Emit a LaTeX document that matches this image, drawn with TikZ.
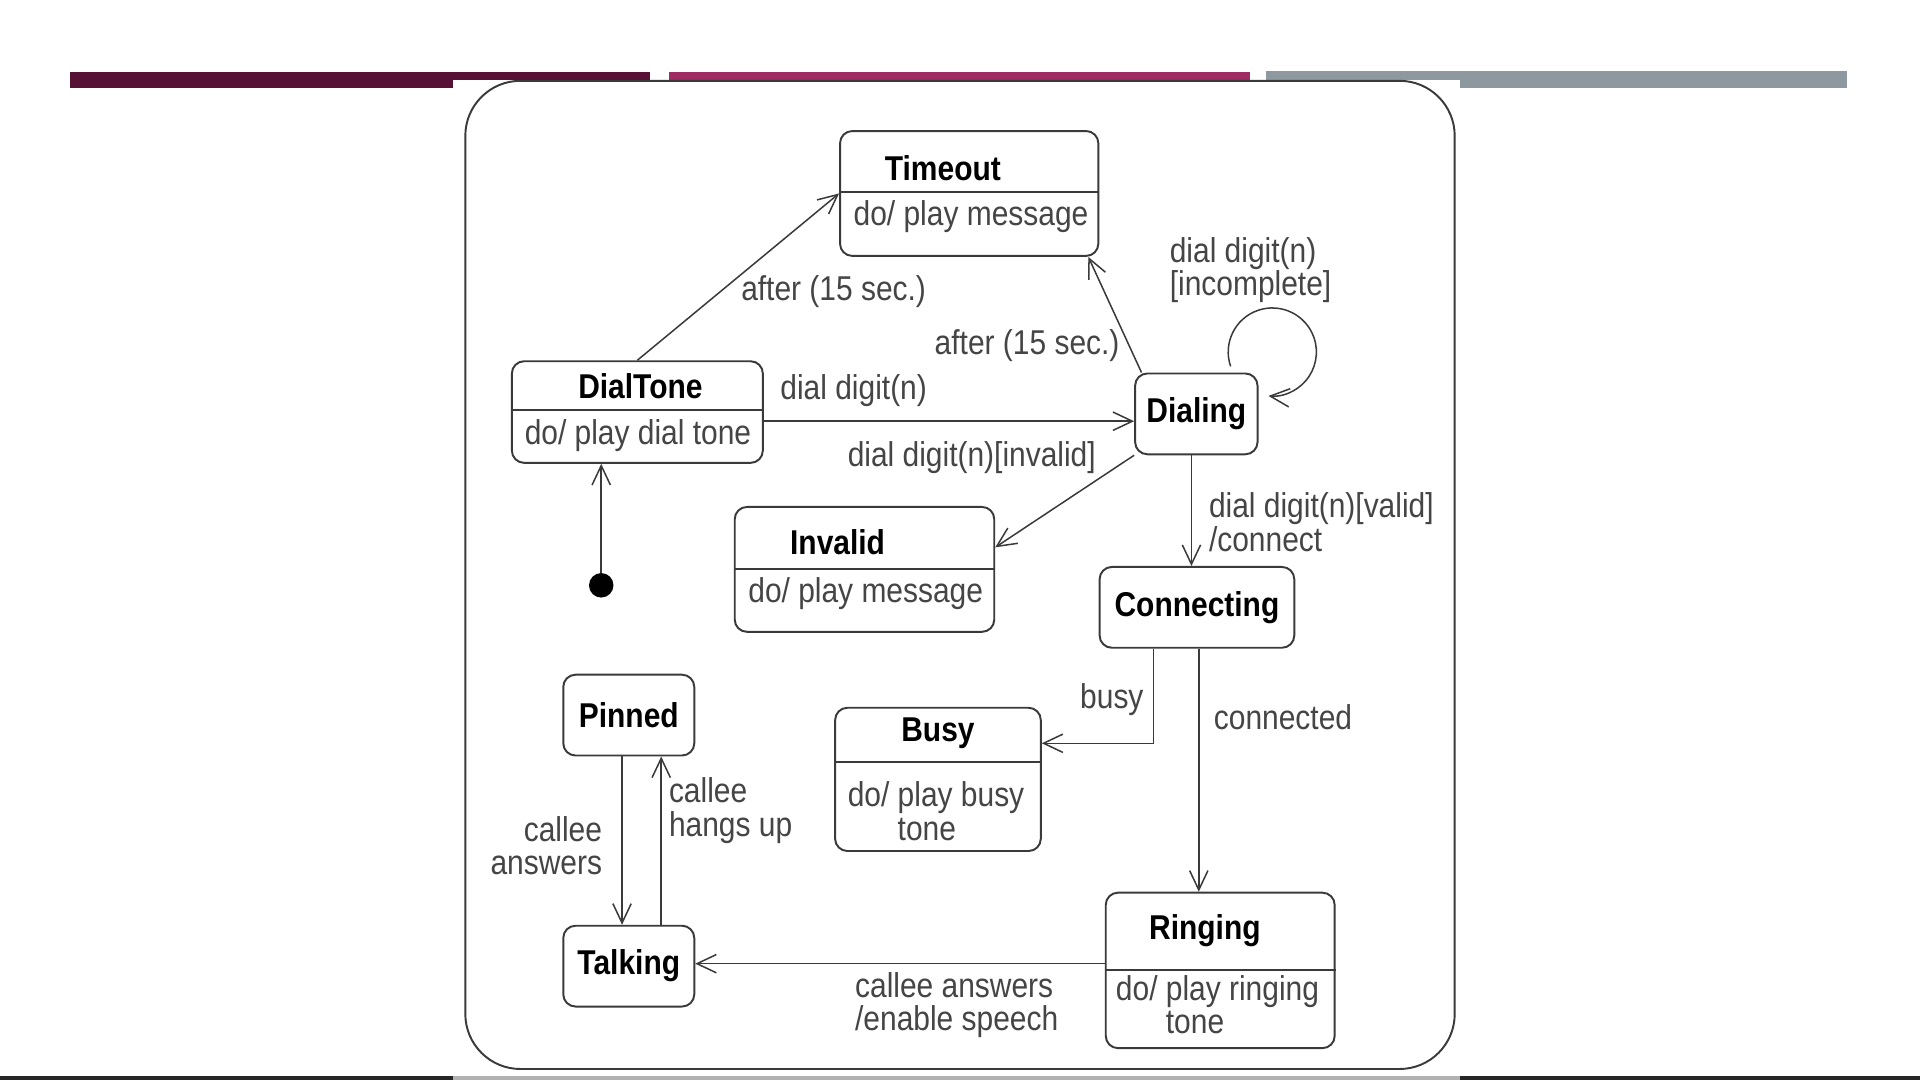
\documentclass[tikz,border=0pt]{standalone}
\usepackage{fontspec}
\setmainfont{Liberation Sans}[FakeStretch=0.87]
\usetikzlibrary{arrows.meta}
\definecolor{lineGray}{HTML}{3A3A3A}
\definecolor{textGray}{HTML}{454545}
\definecolor{barDark}{HTML}{561135}
\definecolor{barPink}{HTML}{9E2B62}
\definecolor{barGray}{HTML}{8E999F}

\begin{document}
\begin{tikzpicture}[x=0.02cm, y=-0.02cm,
		>={Straight Barb[length=9pt,width=8.5pt]},
		every node/.style={font=\fontsize{16}{15.4}\selectfont, text=textGray},
		statebox/.style={draw=lineGray, line width=0.9pt, rounded corners=0.2cm, inner sep=0pt,
			font=\fontsize{16}{15.4}\selectfont\bfseries, text=black},
		stitle/.style={inner sep=0pt, yshift=-0.04cm, font=\fontsize{16}{15.4}\selectfont\bfseries, text=black},
		lbl/.style={inner sep=0pt, yshift=-0.04cm, align=left},
		trans/.style={->, draw=lineGray, line width=0.7pt},
		divider/.style={draw=lineGray, line width=0.9pt}]
		\useasboundingbox (0,0) rectangle (1568,882);
		\fill[barDark] (57,59)   rectangle (531,72);
		\fill[barPink] (546,59)  rectangle (1021,72);
		\fill[barGray] (1034,58) rectangle (1508,72);
		\fill[black!85] (0,879)  rectangle (1568,882);
		\fill[white]   (370,65)  rectangle (1192,879);
		\fill[gray!60] (370,879) rectangle (1192,882);
		\draw[lineGray, line width=0.9pt, rounded corners=0.9cm] (380,66) rectangle (1188,873);

		\node[statebox, minimum width=4.22cm, minimum height=2.04cm] (timeout)    at (791.5,158)  {};
		\node[statebox, minimum width=4.10cm, minimum height=1.66cm] (dialtone)   at (520.5,336.5){};
		\node[statebox, minimum width=2.00cm, minimum height=1.32cm] (dialing)    at (977,338)    {Dialing};
		\node[statebox, minimum width=4.24cm, minimum height=2.04cm] (invalid)    at (706,465)    {};
		\node[statebox, minimum width=3.18cm, minimum height=1.32cm] (connecting) at (977.5,496)  {Connecting};
		\node[statebox, minimum width=2.14cm, minimum height=1.32cm] (pinned)     at (513.5,584)  {Pinned};
		\node[statebox, minimum width=3.36cm, minimum height=2.34cm] (busy)       at (766,636.5)  {};
		\node[statebox, minimum width=2.14cm, minimum height=1.32cm] (talking)    at (513.5,789)  {Talking};
		\node[statebox, minimum width=3.74cm, minimum height=2.54cm] (ringing)    at (996.5,792.5){};
		\node[circle, fill=black, minimum size=0.4cm, inner sep=0pt] (init) at (491,478) {};

		\draw[divider] ([yshift=0.02cm]timeout.west)  -- ([yshift=0.02cm]timeout.east);
		\draw[divider] ([yshift=0.03cm]dialtone.west) -- ([yshift=0.03cm]dialtone.east);
		\draw[divider] (invalid.west)                 -- (invalid.east);
		\draw[divider] ([yshift=0.29cm]busy.west)     -- ([yshift=0.29cm]busy.east);
		\draw[divider] ([yshift=0.01cm]ringing.west)  -- ([yshift=0.01cm]ringing.east);

		\node[stitle] (timeout-name)  at (770,135) {Timeout};
		\node[stitle] (dialtone-name) at (523,313) {DialTone};
		\node[stitle] (invalid-name)  at (684,441) {Invalid};
		\node[stitle] (busy-name)     at (766,597) {Busy};
		\node[stitle] (ringing-name)  at (984,758) {Ringing};

		\node[lbl] (timeout-do)  at (793,175) {do/ play message};
		\node[lbl] (dialtone-do) at (521,354) {do/ play dial tone};
		\node[lbl] (invalid-do)  at (707,483) {do/ play message};
		\node[lbl, anchor=west] (busy-do)    at (692,660.5) {do/ play busy\\\phantom{do/ }tone};
		\node[lbl, anchor=west] (ringing-do) at (911,818.5) {do/ play ringing\\\phantom{do/ }tone};

		\coordinate (dt-out) at ([yshift=-0.15cm]dialtone.east);
		\coordinate (dl-out) at ([xshift=-0.08cm]dialing.south);
		\coordinate (cn-bsy) at ([xshift=-0.71cm]connecting.south);
		\coordinate (cn-rng) at ([xshift=0.03cm]connecting.south);
		\coordinate (rg-out) at ([yshift=0.11cm]ringing.west);
		\coordinate (pn-out) at ([xshift=-0.11cm]pinned.south);
		\coordinate (tk-out) at ([xshift=0.53cm]talking.north);

		\draw[trans] (init) -- (init |- dialtone.south);
		\draw[trans] (dialtone.north) -- (timeout.west);
		\draw[trans] ([xshift=0.12cm]dialing.north west) -- ([xshift=-0.18cm]timeout.south east);
		\draw[trans] (dt-out) -- (dt-out -| dialing.west);
		\draw[trans] (dialing.south west) -- ([yshift=0.36cm]invalid.east);
		\draw[trans] ([xshift=0.56cm,yshift=0.1cm]dialing.north) arc[start angle=161, end angle=455, radius=36];
		\draw[trans] (dl-out) -- (dl-out |- connecting.north);
		\draw[trans] (cn-bsy) |- ([yshift=0.59cm]busy.east);
		\draw[trans] (cn-rng) -- (cn-rng |- ringing.north);
		\draw[trans] (rg-out) -- (rg-out -| talking.east);
		\draw[trans] (pn-out) -- (pn-out |- talking.north);
		\draw[trans] (tk-out) -- (tk-out |- pinned.south);

		\node[lbl, anchor=west] (l-after1) at (605,236)   {after (15 sec.)};
		\node[lbl, anchor=west] (l-after2) at (763,280)   {after (15 sec.)};
		\node[lbl, anchor=west] (l-digit)  at (637,317)   {dial digit(n)};
		\node[lbl, anchor=west] (l-inval)  at (692,372)   {dial digit(n)[invalid]};
		\node[lbl, anchor=west] (l-incpl)  at (955,218.5) {dial digit(n)\\{}[incomplete]};
		\node[lbl, anchor=west] (l-valid)  at (987,424.5) {dial digit(n)[valid]\\/connect};
		\node[lbl] (l-busy)                at (908,569)   {busy};
		\node[lbl, anchor=west] (l-conn)   at (991,584)   {connected};
		\node[lbl, align=right, anchor=east] (l-answ) at (492,688.5) {callee\\answers};
		\node[lbl, anchor=west] (l-hang)   at (546,660)   {callee\\hangs up};
		\node[lbl, anchor=west] (l-speech) at (698,818.5) {callee answers\\/enable speech};
	\end{tikzpicture}
\end{document}
